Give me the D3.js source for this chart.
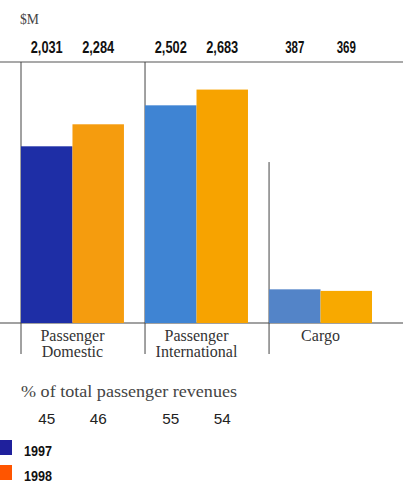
<!DOCTYPE html>
<html><head><meta charset="utf-8">
<script src="https://cdn.jsdelivr.net/npm/d3@7"></script>
<style>body{margin:0;background:#fff}svg{display:block}</style>
</head><body>
<svg id="c" width="403" height="488"></svg>
<script>
const categories = ["Passenger Domestic", "Passenger International", "Cargo"];
const categoryLines = [["Passenger","Domestic"],["Passenger","International"],["Cargo"]];
const series = ["1997", "1998"];
const values1997 = [2031, 2502, 387];
const values1998 = [2284, 2683, 369];
const valueLabels1997 = ["2,031", "2,502", "387"];
const valueLabels1998 = ["2,284", "2,683", "369"];
const sharePct1997 = [45, 55];
const sharePct1998 = [46, 54];
const colors1997 = ["#1e2ea6", "#3f84d3", "#5384c8"];
const colors1998 = ["#f59c0e", "#f7a300", "#f8a900"];
const legendColors = ["#1f209c", "#ff5500"];

const svg = d3.select("#c");
const y = d3.scaleLinear().domain([0, 3000]).range([323, 62]);
const x0 = d3.scaleBand().domain(categories).range([21, 372]).paddingInner(0.17).paddingOuter(0);
const x1 = d3.scaleBand().domain(series).range([0, x0.bandwidth()]);

const sans = "'Liberation Sans','Arimo',sans-serif";
const serif = "'Liberation Serif','DejaVu Serif',serif";

// $M unit
svg.append("text").attr("x", 20).attr("y", 24).attr("font-family", serif)
  .attr("font-size", 14).attr("fill", "#444")
  .attr("textLength", 19).attr("lengthAdjust", "spacingAndGlyphs").text("$M");

// top rule
svg.append("line").attr("x1", 0).attr("x2", 403).attr("y1", y(3000)).attr("y2", y(3000))
  .attr("stroke", "#555").attr("stroke-width", 1.2);
// baseline
svg.append("line").attr("x1", 0).attr("x2", 403).attr("y1", y(0)).attr("y2", y(0))
  .attr("stroke", "#444").attr("stroke-width", 1.2);

// group divider lines
const dividerTops = [y(3000), y(3000), y(1850)];
categories.forEach((c, i) => {
  const gx = x0(c);
  svg.append("line").attr("x1", gx).attr("x2", gx).attr("y1", dividerTops[i]).attr("y2", y(0) + 31)
    .attr("stroke", "#444").attr("stroke-width", 1);
});

const data = categories.map((c, i) => ({c, i, vals: [values1997[i], values1998[i]],
  labels: [valueLabels1997[i], valueLabels1998[i]], cols: [colors1997[i], colors1998[i]]}));

const g = svg.selectAll("g.grp").data(data).join("g").attr("class", "grp")
  .attr("transform", d => `translate(${x0(d.c)},0)`);

g.selectAll("rect").data(d => series.map((s, k) => ({s, v: d.vals[k], col: d.cols[k]})))
  .join("rect")
  .attr("x", d => x1(d.s)).attr("width", x1.bandwidth())
  .attr("y", d => y(d.v)).attr("height", d => y(0) - y(d.v))
  .attr("fill", d => d.col);

g.selectAll("text.val").data(d => series.map((s, k) => ({s, t: d.labels[k]})))
  .join("text").attr("class", "val")
  .attr("x", d => x1(d.s) + x1.bandwidth() / 2).attr("y", 53)
  .attr("text-anchor", "middle").attr("font-family", sans).attr("font-weight", "bold")
  .attr("font-size", 16).attr("fill", "#111")
  .attr("textLength", d => d.t.length * 6.4).attr("lengthAdjust", "spacingAndGlyphs")
  .text(d => d.t);

// category labels
g.each(function(d) {
  const lines = categoryLines[d.i];
  const t = d3.select(this).append("text").attr("text-anchor", "middle")
    .attr("font-family", serif).attr("font-size", 16).attr("fill", "#333");
  lines.forEach((ln, j) => {
    t.append("tspan").attr("x", x0.bandwidth() / 2).attr("y", y(0) + 18 + j * 16).text(ln);
  });
});

// % of total passenger revenues
svg.append("text").attr("x", 21).attr("y", 397).attr("font-family", serif)
  .attr("font-size", 17).attr("fill", "#444")
  .attr("textLength", 216).attr("lengthAdjust", "spacingAndGlyphs")
  .text("% of total passenger revenues");
[sharePct1997, sharePct1998].forEach((arr, k) => {
  arr.forEach((v, i) => {
    svg.append("text").attr("x", x0(categories[i]) + x1(series[k]) + x1.bandwidth() / 2)
      .attr("y", 424).attr("text-anchor", "middle").attr("font-family", sans)
      .attr("font-size", 15).attr("fill", "#222")
      .attr("textLength", 17).attr("lengthAdjust", "spacingAndGlyphs").text(v);
  });
});

// legend
series.forEach((s, k) => {
  svg.append("rect").attr("x", 0).attr("y", 440 + k * 25).attr("width", 12).attr("height", 15)
    .attr("fill", legendColors[k]);
  svg.append("text").attr("x", 24).attr("y", 456 + k * 25).attr("font-family", sans)
    .attr("font-weight", "bold").attr("font-size", 15).attr("fill", "#111")
    .attr("textLength", 28).attr("lengthAdjust", "spacingAndGlyphs").text(s);
});
</script>
</body></html>
